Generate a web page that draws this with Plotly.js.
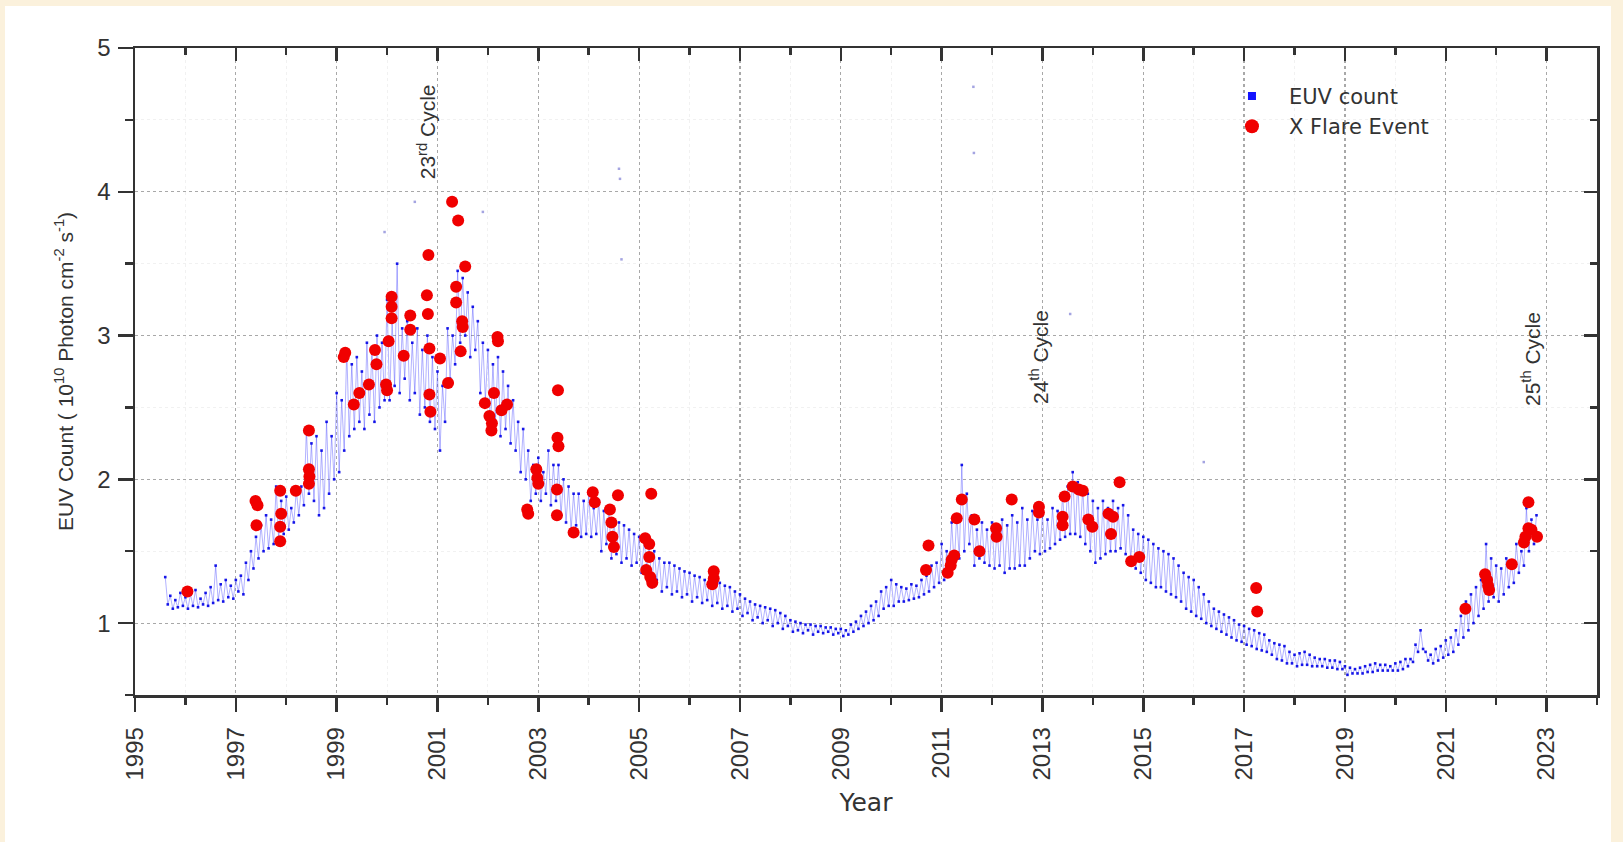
<!DOCTYPE html>
<html>
<head>
<meta charset="utf-8">
<script src="https://cdn.plot.ly/plotly-3.0.1.min.js"></script>
<style>
  html, body { margin: 0; padding: 0; background: #fbf1dc; }
  #sheet { position: absolute; left: 5px; top: 6px; width: 1606px; height: 836px; background: #ffffff; }
  #chart { position: absolute; left: 0; top: 0; width: 1623px; height: 842px; }
</style>
</head>
<body>
<div id="sheet"></div>
<div id="chart"></div>
<script>
// EUV count (10^10 photon cm^-2 s^-1), sampled every 0.05 yr from 1995.60,
// swinging between the upper and lower edge of the rotational modulation.
const euvStartYear = 1995.6;
const euvStepYear = 0.05;
const euvCount = [
  1.32, 1.13, 1.19, 1.10, 1.16, 1.11, 1.21, 1.12,                                                            // 1995.60-1995.95
  1.18, 1.10, 1.20, 1.12, 1.23, 1.11, 1.17, 1.13, 1.21, 1.12, 1.25, 1.14, 1.40, 1.16, 1.27, 1.15, 1.30, 1.18, 1.26, 1.17, // 1996
  1.30, 1.22, 1.33, 1.20, 1.42, 1.30, 1.50, 1.38, 1.60, 1.45, 1.68, 1.50, 1.75, 1.52, 1.72, 1.55, 1.95, 1.58, 1.85, 1.62, // 1997
  1.88, 1.65, 1.80, 1.70, 1.92, 1.75, 1.95, 1.82, 2.35, 1.90, 2.25, 1.85, 2.30, 1.75, 2.20, 1.80, 2.40, 1.90, 2.30, 2.00, // 1998
  2.60, 2.05, 2.55, 2.20, 2.90, 2.30, 2.80, 2.35, 2.85, 2.40, 2.75, 2.35, 2.95, 2.45, 2.90, 2.40, 3.00, 2.50, 2.95, 2.55, // 1999
  3.25, 2.55, 3.10, 2.65, 3.50, 2.60, 3.05, 2.70, 3.10, 2.55, 2.95, 2.60, 3.05, 2.45, 2.90, 2.50, 3.00, 2.40, 2.85, 2.35, // 2000
  2.75, 2.20, 2.65, 2.40, 3.05, 2.70, 3.00, 2.80, 3.45, 2.95, 3.40, 3.00, 3.30, 2.85, 3.20, 2.90, 3.10, 2.60, 2.95, 2.55, // 2001
  2.90, 2.35, 2.80, 2.40, 2.85, 2.30, 2.75, 2.35, 2.65, 2.25, 2.55, 2.20, 2.40, 2.05, 2.35, 2.00, 2.20, 1.85, 2.10, 1.90, // 2002
  2.15, 1.85, 2.05, 1.90, 2.20, 1.82, 2.10, 1.85, 2.10, 1.75, 2.00, 1.70, 1.95, 1.65, 1.90, 1.68, 1.90, 1.60, 1.85, 1.62, // 2003
  1.90, 1.60, 1.80, 1.62, 1.85, 1.50, 1.78, 1.55, 1.80, 1.45, 1.72, 1.48, 1.70, 1.42, 1.68, 1.45, 1.65, 1.40, 1.62, 1.42, // 2004
  1.60, 1.35, 1.58, 1.38, 1.55, 1.25, 1.50, 1.30, 1.45, 1.22, 1.42, 1.25, 1.42, 1.20, 1.40, 1.22, 1.38, 1.18, 1.36, 1.20, // 2005
  1.35, 1.15, 1.33, 1.18, 1.32, 1.14, 1.30, 1.16, 1.30, 1.12, 1.29, 1.14, 1.28, 1.10, 1.26, 1.12, 1.25, 1.08, 1.22, 1.10, // 2006
  1.20, 1.05, 1.17, 1.07, 1.15, 1.02, 1.13, 1.04, 1.12, 1.00, 1.11, 1.02, 1.10, 0.98, 1.09, 1.00, 1.07, 0.96, 1.05, 0.98, // 2007
  1.02, 0.94, 1.01, 0.95, 1.00, 0.93, 0.99, 0.95, 0.99, 0.92, 0.98, 0.94, 0.98, 0.93, 0.97, 0.94, 0.97, 0.92, 0.96, 0.93, // 2008
  0.96, 0.91, 0.95, 0.92, 0.99, 0.94, 1.01, 0.96, 1.05, 0.98, 1.08, 1.00, 1.12, 1.02, 1.15, 1.05, 1.22, 1.10, 1.25, 1.12, // 2009
  1.30, 1.12, 1.27, 1.15, 1.25, 1.15, 1.24, 1.16, 1.27, 1.17, 1.26, 1.18, 1.30, 1.20, 1.33, 1.22, 1.40, 1.25, 1.42, 1.28, // 2010
  1.55, 1.30, 1.50, 1.35, 1.70, 1.40, 1.75, 1.45, 2.10, 1.50, 1.90, 1.55, 1.75, 1.40, 1.65, 1.45, 1.70, 1.42, 1.65, 1.40, // 2011
  1.70, 1.38, 1.65, 1.40, 1.72, 1.35, 1.68, 1.38, 1.75, 1.38, 1.70, 1.40, 1.80, 1.40, 1.72, 1.45, 1.78, 1.50, 1.72, 1.48, // 2012
  1.75, 1.50, 1.72, 1.52, 1.80, 1.55, 1.78, 1.58, 1.90, 1.60, 1.95, 1.62, 2.05, 1.62, 1.98, 1.60, 1.95, 1.55, 1.90, 1.50, // 2013
  1.85, 1.42, 1.80, 1.45, 1.85, 1.48, 1.80, 1.50, 1.85, 1.50, 1.80, 1.52, 1.82, 1.48, 1.75, 1.45, 1.65, 1.38, 1.62, 1.35, // 2014
  1.60, 1.30, 1.58, 1.28, 1.55, 1.25, 1.52, 1.25, 1.50, 1.22, 1.48, 1.20, 1.45, 1.18, 1.40, 1.15, 1.35, 1.10, 1.32, 1.08, // 2015
  1.30, 1.05, 1.25, 1.03, 1.20, 1.00, 1.15, 0.98, 1.10, 0.96, 1.08, 0.94, 1.06, 0.92, 1.04, 0.90, 1.02, 0.88, 0.99, 0.87, // 2016
  0.98, 0.85, 0.96, 0.84, 0.95, 0.82, 0.93, 0.81, 0.92, 0.80, 0.88, 0.78, 0.86, 0.75, 0.85, 0.74, 0.84, 0.72, 0.80, 0.72, // 2017
  0.78, 0.70, 0.79, 0.71, 0.80, 0.71, 0.78, 0.70, 0.76, 0.70, 0.75, 0.70, 0.75, 0.69, 0.74, 0.69, 0.74, 0.68, 0.73, 0.68, // 2018
  0.70, 0.64, 0.69, 0.65, 0.68, 0.65, 0.69, 0.65, 0.70, 0.66, 0.71, 0.66, 0.72, 0.67, 0.71, 0.67, 0.71, 0.67, 0.70, 0.67, // 2019
  0.72, 0.67, 0.73, 0.68, 0.75, 0.70, 0.75, 0.73, 0.85, 0.80, 0.95, 0.82, 0.80, 0.74, 0.78, 0.72, 0.82, 0.74, 0.84, 0.76, // 2020
  0.88, 0.78, 0.90, 0.80, 0.95, 0.85, 1.05, 0.90, 1.15, 0.95, 1.20, 1.00, 1.25, 1.05, 1.30, 1.10, 1.55, 1.15, 1.45, 1.18, // 2021
  1.40, 1.15, 1.38, 1.20, 1.45, 1.25, 1.42, 1.28, 1.55, 1.35, 1.50, 1.40, 1.80, 1.50, 1.72, 1.55, 1.75                    // 2022.00-2022.80
];
const euvYears = euvCount.map((_, i) => +(euvStartYear + euvStepYear * i).toFixed(2));

// Isolated high EUV readings
const euvSpikeYears  = [1999.95, 2000.55, 2001.9, 2004.6, 2004.62, 2004.65, 2011.63, 2011.64, 2013.55, 2016.2];
const euvSpikeValues = [3.72,    3.93,    3.86,   4.16,   4.09,    3.53,    4.73,    4.27,    3.15,    2.12];

// X-class flare events
const flareYears = [
  1996.04, 1997.39, 1997.43, 1997.41, 1997.88, 1997.90, 1997.88, 1997.88, 1998.19,
  1998.45, 1998.45, 1998.46, 1998.45, 1999.17, 1999.14, 1999.34, 1999.45, 1999.64,
  1999.76, 1999.79, 1999.98, 2000.00, 2000.03, 2000.09, 2000.09, 2000.09, 2000.33,
  2000.46, 2000.46, 2000.82, 2000.79, 2000.81, 2000.84, 2000.84, 2000.86, 2001.05,
  2001.21, 2001.29, 2001.41, 2001.55, 2001.37, 2001.37, 2001.49, 2001.50, 2001.46,
  2001.94, 2002.03, 2002.07, 2002.08, 2002.12, 2002.19, 2002.20, 2002.27, 2002.38,
  2002.78, 2002.80, 2002.96, 2002.98, 2003.00, 2003.39, 2003.38, 2003.40, 2003.37,
  2003.37, 2003.70, 2004.08, 2004.12, 2004.42, 2004.45, 2004.47, 2004.50, 2004.58,
  2005.12, 2005.20, 2005.20, 2005.14, 2005.22, 2005.26, 2005.24, 2006.48, 2006.48,
  2006.45, 2010.69, 2010.74, 2011.12, 2011.18, 2011.20, 2011.25, 2011.30, 2011.40,
  2011.65, 2011.75, 2012.08, 2012.09, 2012.39, 2012.93, 2012.93, 2013.40, 2013.40,
  2013.44, 2013.60, 2013.72, 2013.80, 2013.91, 2013.99, 2014.31, 2014.40, 2014.36,
  2014.53, 2014.76, 2014.92, 2017.24, 2017.26, 2021.39, 2021.78, 2021.82, 2021.86,
  2021.84, 2022.31, 2022.64, 2022.64, 2022.58, 2022.81, 2022.55, 2022.70
];
const flareValues = [
  1.22, 1.85, 1.82, 1.68, 1.92, 1.76, 1.67, 1.57, 1.92,
  2.34, 2.07, 2.02, 1.97, 2.88, 2.85, 2.52, 2.60, 2.66,
  2.90, 2.80, 2.66, 2.62, 2.96, 3.27, 3.20, 3.12, 2.86,
  3.14, 3.04, 3.56, 3.28, 3.15, 2.91, 2.59, 2.47, 2.84,
  2.67, 3.93, 3.80, 3.48, 3.34, 3.23, 3.10, 3.06, 2.89,
  2.53, 2.44, 2.34, 2.39, 2.60, 2.99, 2.96, 2.48, 2.52,
  1.79, 1.76, 2.07, 2.01, 1.97, 2.62, 2.29, 2.23, 1.93,
  1.75, 1.63, 1.91, 1.84, 1.79, 1.70, 1.60, 1.53, 1.89,
  1.59, 1.55, 1.46, 1.37, 1.32, 1.28, 1.90, 1.36, 1.31,
  1.27, 1.37, 1.54, 1.35, 1.40, 1.44, 1.47, 1.73, 1.86,
  1.72, 1.50, 1.66, 1.60, 1.86, 1.81, 1.77, 1.74, 1.68,
  1.88, 1.95, 1.93, 1.92, 1.72, 1.67, 1.76, 1.74, 1.62,
  1.98, 1.43, 1.46, 1.245, 1.08, 1.10, 1.34, 1.30, 1.23,
  1.26, 1.41, 1.84, 1.66, 1.60, 1.60, 1.56, 1.65
];

// Solar cycle labels
const cycleText  = ['23<sup>rd</sup> Cycle', '24<sup>th</sup> Cycle', '25<sup>th</sup> Cycle'];
const cycleYear  = [2000.79, 2012.93, 2022.68];
const cycleLevel = [4.42, 2.85, 2.84];

const legendNames = ['EUV count', 'X Flare Event'];

const BLUE = 'rgb(20,20,255)';
const RED = 'rgb(240,0,0)';
const INK = '#333333';

const traces = [
  {
    x: euvYears, y: euvCount, type: 'scatter', mode: 'lines+markers',
    line: { color: 'rgba(40,40,255,0.45)', width: 0.8 },
    marker: { symbol: 'square', size: 2.6, color: 'rgba(0,0,230,0.9)' },
    showlegend: false, hoverinfo: 'skip'
  },
  {
    x: euvSpikeYears, y: euvSpikeValues, type: 'scatter', mode: 'markers',
    marker: { symbol: 'square', size: 2.5, color: 'rgba(90,90,200,0.55)' },
    showlegend: false, hoverinfo: 'skip'
  },
  {
    x: flareYears, y: flareValues, type: 'scatter', mode: 'markers',
    marker: { symbol: 'circle', size: 12, color: RED },
    showlegend: false
  },
  // legend entries (drawn on the mirrored frame axes)
  {
    x: [null], y: [null], type: 'scatter', mode: 'markers', name: legendNames[0],
    marker: { symbol: 'square', size: 8, color: BLUE }, xaxis: 'x2', yaxis: 'y2'
  },
  {
    x: [null], y: [null], type: 'scatter', mode: 'markers', name: legendNames[1],
    marker: { symbol: 'circle', size: 14, color: RED }, xaxis: 'x2', yaxis: 'y2'
  }
];

const tickFont = { family: 'Liberation Sans, Arial, sans-serif', size: 24, color: INK };

const layout = {
  width: 1623, height: 842,
  margin: { l: 135, r: 26, t: 48, b: 147, pad: 0 },
  paper_bgcolor: 'rgba(0,0,0,0)',
  plot_bgcolor: '#ffffff',
  font: { family: 'Liberation Sans, Arial, sans-serif', color: INK },
  showlegend: true,
  legend: {
    x: 0.7387, y: 0.957, xanchor: 'left', yanchor: 'top',
    bgcolor: 'rgba(0,0,0,0)', borderwidth: 0, itemwidth: 64,
    font: { family: 'DejaVu Sans, sans-serif', size: 21, color: INK }, tracegroupgap: 0
  },
  xaxis: {
    range: [1995, 2024], tick0: 1995, dtick: 2,
    ticks: 'outside', ticklen: 14, tickwidth: 2.5, tickcolor: INK,
    showline: true, linewidth: 2.5, linecolor: INK, mirror: true,
    showgrid: true, gridcolor: '#a8a8a8', griddash: 'dot', gridwidth: 1.2,
    zeroline: false, tickangle: -90, tickfont: tickFont, ticklabelstandoff: 6,
    minor: { tick0: 1995, dtick: 1, ticks: 'outside', ticklen: 7, tickwidth: 2.5, tickcolor: INK,
             showgrid: true, gridcolor: '#f1f1f1', gridwidth: 1 },
    title: { text: 'Year', font: { family: 'DejaVu Sans, sans-serif', size: 25, color: INK }, standoff: 14 }
  },
  yaxis: {
    range: [0.5, 5], tick0: 0, dtick: 1,
    ticks: 'outside', ticklen: 15, tickwidth: 2.5, tickcolor: INK,
    showline: true, linewidth: 2.5, linecolor: INK, mirror: true,
    showgrid: true, gridcolor: '#a8a8a8', griddash: 'dot', gridwidth: 1.2,
    zeroline: false, tickfont: tickFont, ticklabelstandoff: 2,
    minor: { tick0: 0, dtick: 0.5, ticks: 'outside', ticklen: 8, tickwidth: 2.5, tickcolor: INK,
             showgrid: true, gridcolor: '#f1f1f1', gridwidth: 1 },
    title: { text: 'EUV Count ( 10<sup>10</sup> Photon cm<sup>-2</sup> s<sup>-1</sup>)',
             font: { size: 21, color: INK }, standoff: 18 }
  },
  // frame ticks pointing inward on top and right
  xaxis2: {
    overlaying: 'x', side: 'top', anchor: 'y', range: [1995, 2024], tick0: 1995, dtick: 2,
    ticks: 'inside', ticklen: 13, tickwidth: 2.5, tickcolor: INK,
    showticklabels: false, showgrid: false, zeroline: false, showline: false,
    minor: { tick0: 1995, dtick: 1, ticks: 'inside', ticklen: 7, tickwidth: 2.5, tickcolor: INK, showgrid: false }
  },
  yaxis2: {
    overlaying: 'y', side: 'right', anchor: 'x', range: [0.5, 5], tick0: 0, dtick: 1,
    ticks: 'inside', ticklen: 13, tickwidth: 2.5, tickcolor: INK,
    showticklabels: false, showgrid: false, zeroline: false, showline: false,
    minor: { tick0: 0, dtick: 0.5, ticks: 'inside', ticklen: 7, tickwidth: 2.5, tickcolor: INK, showgrid: false }
  },
  annotations: cycleText.map((t, i) => ({
    x: cycleYear[i], y: cycleLevel[i], xref: 'x', yref: 'y', text: t,
    textangle: -90, showarrow: false, font: { size: 21, color: INK }
  }))
};

Plotly.newPlot('chart', traces, layout, { displayModeBar: false, staticPlot: true });
</script>
</body>
</html>
